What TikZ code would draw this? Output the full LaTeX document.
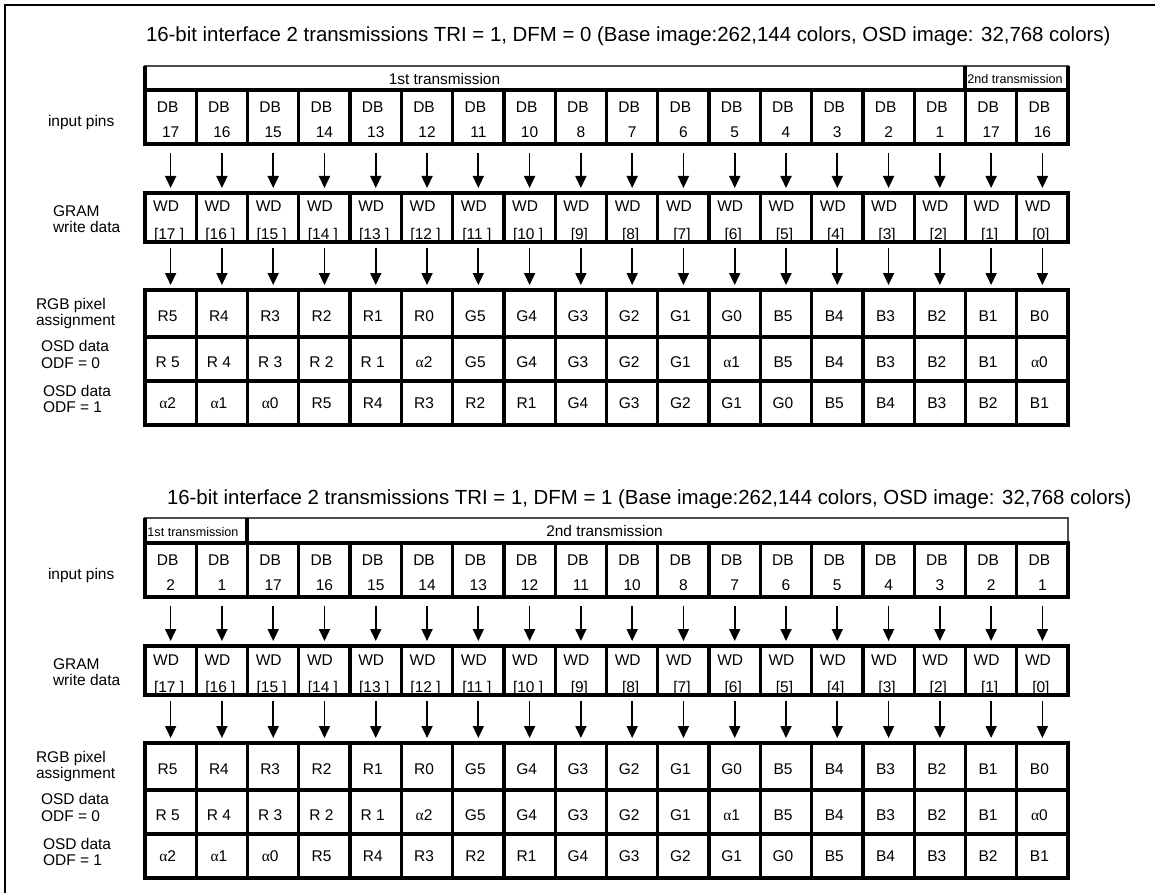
\documentclass[tikz,border=0pt]{standalone}
\usepackage{fontspec}
\setmainfont{Liberation Sans}
\newfontfamily\grkfont{Liberation Serif}
\usetikzlibrary{arrows.meta}
\newcommand{\al}{{\grkfont α}}

\begin{document}
\begin{tikzpicture}[x=1pt, y=-1pt,
    every node/.style={inner sep=0pt, outer sep=0pt},
    cell/.style={draw, line width=3.3pt, minimum width=51.28pt, minimum height=#1},
    ctxt/.style={anchor=base, font=\fontsize{15.5}{18}\selectfont},
    lbl/.style={anchor=west, align=left, font=\fontsize{15.5}{16.5}\selectfont},
    ttl/.style={anchor=base west, font=\fontsize{20.4}{24}\selectfont},
    trbig/.style={anchor=base, font=\fontsize{15.4}{18}\selectfont},
    trsmall/.style={anchor=base, font=\fontsize{12.6}{14}\selectfont},
    arr/.style={-{Triangle[length=12pt, width=11pt]}, line width=1.7pt},
    bar/.style={draw=black!70, line width=2pt},
    sep/.style={line width=3.3pt}
]
\useasboundingbox (0,0) rectangle (1155,893);
% frame (cut at right and bottom)
\draw[line width=2.5pt] (5,893) -- (5,5) -- (1155,5);

% titles
\node[ttl] (titA) at (146,42) {16-bit interface 2 transmissions TRI = 1, DFM = 0 (Base image:262,144 colors, OSD image: 32,768 colors)};
\node[ttl] (titB) at (167,504) {16-bit interface 2 transmissions TRI = 1, DFM = 1 (Base image:262,144 colors, OSD image: 32,768 colors)};

% transmission bars
\draw[bar] (145,66) rectangle (1068,90);
\draw[sep] (145,66) -- (145,90) (965,66) -- (965,90) (1068,66) -- (1068,90);
\node[trbig] (trA1) at (444.5,85) {1st transmission};
\node[trsmall] (trA2) at (1015,83.5) {2nd transmission};

\draw[bar] (145,518) rectangle (1068,544);
\draw[sep] (145,518) -- (145,544) (247,518) -- (247,544);
\node[trsmall] (trB1) at (193,536) {1st transmission};
\node[trbig] (trB2) at (604.5,536.5) {2nd transmission};

\foreach \t/\d/\pins in {A/0/{17,16,15,14,13,12,11,10,8,7,6,5,4,3,2,1,17,16},
                         B/453/{2,1,17,16,15,14,13,12,11,10,8,7,6,5,4,3,2,1}} {
  % row labels
  \node[lbl] (pinlbl\t) at (48,122+\d) {input pins};
  \node[lbl] (wdlbl\t) at (53,219+\d) {GRAM\\write data};
  \node[lbl] (rgblbl\t) at (36,313.5+\d) {RGB pixel\\assignment};
  \node[lbl] (oalbl\t) at (41,354.5+\d) {OSD data\\ODF = 0};
  \node[lbl] (oblbl\t) at (43,399+\d) {OSD data\\ODF = 1};

  % input pins
  \foreach \p [count=\i from 0] in \pins {
    \pgfmathsetmacro\cx{145+(\i+0.5)*51.28}
    \node[ctxt] (pdb\t\i) at ({\cx-3},{112.5+\d}) {DB};
    \node[ctxt] (pnum\t\i) at (\cx,{137.5+\d}) {\p};
    \node[cell=54pt] (pin\t\i) at (\cx,{117+\d}) {};
  }
  % GRAM write data
  \foreach \w [count=\i from 0] in {17,16,...,0} {
    \pgfmathsetmacro\cx{145+(\i+0.5)*51.28}
    \node[ctxt] (wdl\t\i) at ({\cx-4.5},{212+\d}) {WD};
    \node[ctxt] (wdn\t\i) at ({\cx-1.5},{239.5+\d}) {[\w\ifnum\w>9\ \fi]};
    \node[cell=49pt] (wd\t\i) at (\cx,{217.5+\d}) {};
    \draw[arr, shorten <=9pt, shorten >=5pt] (pin\t\i) -- (wd\t\i);
  }
  % pixel assignment and OSD rows
  \foreach \r/\y/\b/\h/\vals in {rgb/313.5/321.7/47/{R5,R4,R3,R2,R1,R0,G5,G4,G3,G2,G1,G0,B5,B4,B3,B2,B1,B0},
                                 oa/359/367/44/{R 5,R 4,R 3,R 2,R 1,\al2,G5,G4,G3,G2,G1,\al1,B5,B4,B3,B2,B1,\al0},
                                 ob/403/408.5/44/{\al2,\al1,\al0,R5,R4,R3,R2,R1,G4,G3,G2,G1,G0,B5,B4,B3,B2,B1}} {
    \foreach \v [count=\i from 0] in \vals {
      \pgfmathsetmacro\cx{145+(\i+0.5)*51.28}
      \node[ctxt] (t\r\t\i) at ({\cx-3},{\b+\d}) {\v};
      \node[cell=\h pt] (\r\t\i) at (\cx,{\y+\d}) {};
    }
  }
  \foreach \i in {0,...,17} {
    \draw[arr, shorten <=6pt, shorten >=5pt] (wd\t\i) -- (rgb\t\i);
  }
}
\end{tikzpicture}
\end{document}
